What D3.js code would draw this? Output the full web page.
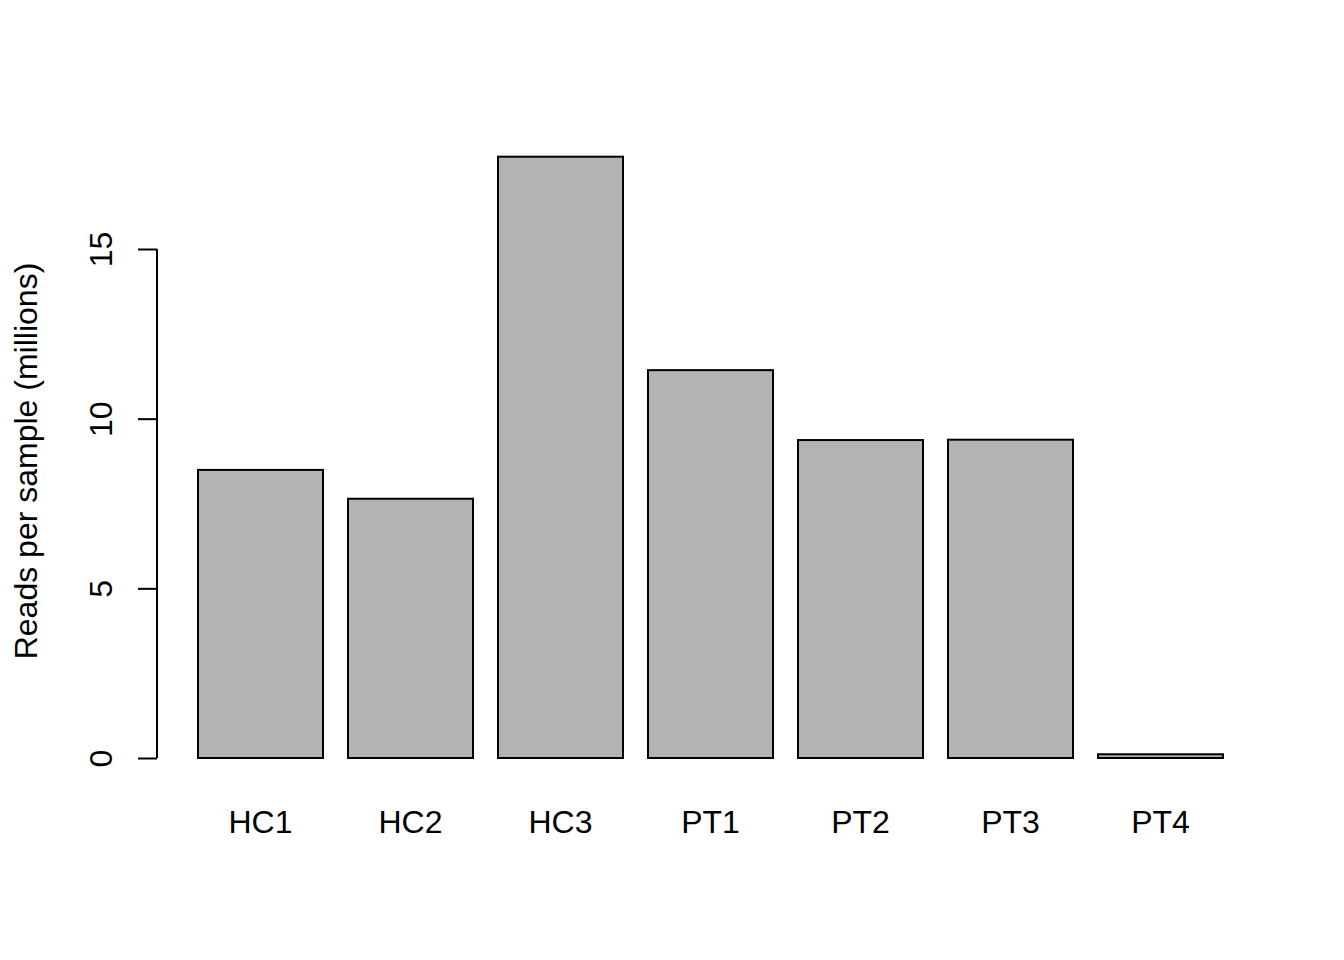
<!DOCTYPE html>
<html>
<head>
<meta charset="utf-8">
<script src="https://cdn.jsdelivr.net/npm/d3@7"></script>
<style>
  html, body { margin: 0; padding: 0; background: #fff; }
  svg { display: block; }
  text { font-family: "Liberation Sans", Arial, Helvetica, sans-serif; fill: #000; }
</style>
</head>
<body>
<svg id="chart" width="1344" height="960"></svg>
<script>
const categories = ["HC1", "HC2", "HC3", "PT1", "PT2", "PT3", "PT4"];
const reads = [8.49, 7.64, 17.72, 11.43, 9.37, 9.38, 0.11];
const yTicks = [0, 5, 10, 15];
const yTitle = "Reads per sample (millions)";

const svg = d3.select("#chart");

// R barplot user coordinates: width 1, space 0.2
const barW = 1, space = 0.2;
const xMaxData = categories.length * (barW + space);
const xPad = (xMaxData - space) * 0.04;
const x = d3.scaleLinear()
  .domain([space - xPad, xMaxData + xPad])
  .range([157, 1264]);

const y = d3.scaleLinear()
  .domain([0, 15])
  .range([758, 249]);

// bars
svg.append("g").selectAll("rect")
  .data(reads)
  .join("rect")
  .attr("x", (d, i) => x(space + i * (barW + space)))
  .attr("width", (d, i) => x(space + i * (barW + space) + barW) - x(space + i * (barW + space)))
  .attr("y", d => y(d))
  .attr("height", d => y(0) - y(d))
  .attr("fill", "#b3b3b3")
  .attr("stroke", "#000")
  .attr("stroke-width", 2);

// y axis
const yAxis = d3.axisLeft(y)
  .tickValues(yTicks)
  .tickSize(19)
  .tickFormat(d3.format("d"));

const gy = svg.append("g")
  .attr("transform", "translate(157,0)")
  .call(yAxis);
gy.select(".domain").remove();
gy.selectAll(".tick line").attr("stroke", "#000").attr("stroke-width", 2);
gy.selectAll(".tick text")
  .attr("x", null).attr("dy", null)
  .attr("text-anchor", "middle")
  .attr("transform", "translate(-45,0) rotate(-90)")
  .attr("font-size", 32)
  .attr("font-family", "Liberation Sans, Arial, sans-serif")
  .attr("fill", "#000");
svg.append("line")
  .attr("x1", 157).attr("x2", 157)
  .attr("y1", y(yTicks[0])).attr("y2", y(yTicks[yTicks.length - 1]))
  .attr("stroke", "#000").attr("stroke-width", 2);

// x labels
svg.append("g").selectAll("text")
  .data(categories)
  .join("text")
  .attr("x", (d, i) => x(space + i * (barW + space) + barW / 2))
  .attr("y", 833)
  .attr("text-anchor", "middle")
  .attr("font-size", 32)
  .text(d => d);

// y title
svg.append("text")
  .attr("transform", `translate(37,${(262 + 660) / 2}) rotate(-90)`)
  .attr("text-anchor", "middle")
  .attr("font-size", 32)
  .text(yTitle);
</script>
</body>
</html>
